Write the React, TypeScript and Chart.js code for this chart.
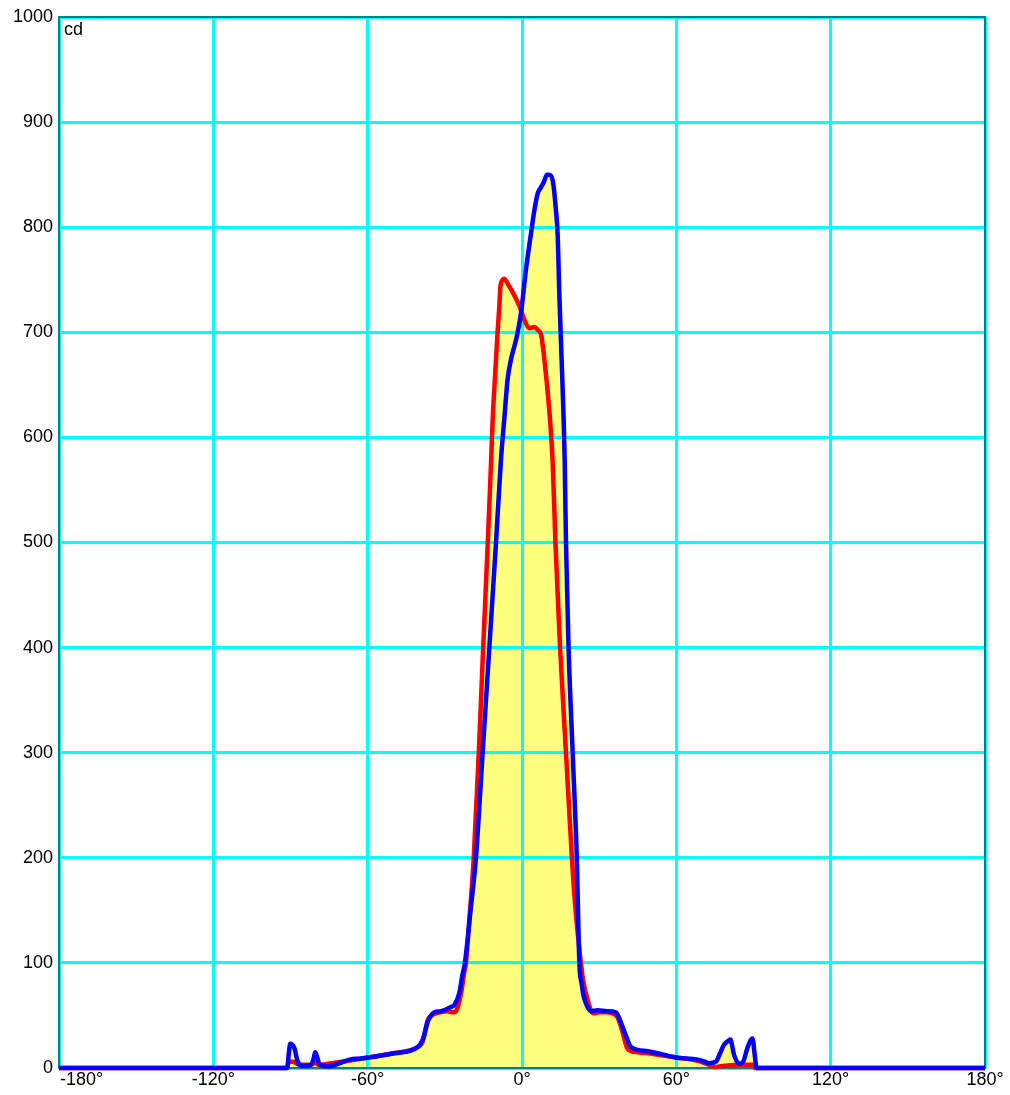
import React, { useEffect, useRef } from "react";
import { Chart, registerables } from "chart.js";

Chart.register(...registerables);

const xTicks = [-180, -120, -60, 0, 60, 120, 180];
const yTicks = [0, 100, 200, 300, 400, 500, 600, 700, 800, 900, 1000];
const unitLabel = "cd";

const redAngles = [-180, -91.5, -90.5, -89, -87.5, -85, -82, -80.5, -79, -75.5, -70, -62, -50, -40.5, -38.6, -36.7, -35, -32, -29, -27, -25.7, -24.5, -23.4, -22.5, -21.8, -20.5, -18.8, -16.8, -15.3, -13.3, -12, -11.4, -10.1, -9.5, -8.8, -8.4, -7.5, -6.9, -5.5, -3.6, -1, 0.9, 2.8, 4.8, 6.2, 7.4, 8.7, 10.6, 11.9, 13, 14.8, 17.1, 19.4, 20.5, 22.9, 24, 25.5, 26.8, 28, 30, 33, 36, 37.2, 39, 41.1, 45, 49, 60, 68, 72.8, 75, 78, 86, 90, 90.5, 180];
const redValues = [0, 0, 6, 6, 4, 3, 3, 5, 3, 4, 6, 9, 14, 20, 25, 45, 50, 53, 54, 53, 54, 62, 75, 90, 100, 140, 198, 300, 388, 500, 578, 617, 674, 700, 725, 743, 750, 751, 746, 738, 725, 712, 704, 705, 702, 698, 674, 626, 578, 500, 400, 300, 200, 160, 100, 80, 65, 55, 52, 53, 53, 51, 48, 35, 18, 15, 14, 10, 7, 3, 1, 2, 3, 3, 0, 0];

const blueAngles = [-180, -91.3, -90.6, -90.1, -88.5, -87.2, -85.3, -82, -81, -80.4, -79.6, -78.8, -75.5, -70.4, -67, -62.6, -49.6, -40.5, -38.6, -36.5, -35.4, -34.1, -31.5, -27.6, -26.3, -24.4, -23.2, -22.2, -20, -17.9, -15.3, -12.7, -10.1, -8.2, -6.9, -5.6, -4.3, -2.3, -1.7, -0.4, 1.5, 3.5, 4.8, 6.1, 7.4, 8.5, 9.7, 10.5, 11.9, 13.2, 13.9, 14.5, 15.4, 16.2, 16.6, 17.1, 18.1, 19.7, 21.3, 22.3, 23.2, 24, 25.5, 26.8, 29.4, 33, 36.5, 38.5, 40.5, 42.4, 48.9, 59.9, 68.3, 71, 72.8, 75.4, 77, 78.5, 80.3, 81, 82.5, 84.4, 86, 87.5, 89, 89.6, 90.5, 91.2, 180];
const blueValues = [0, 0, 15, 23, 19, 6, 2, 3, 9, 15, 10, 4, 1.5, 5, 8, 9, 14, 20, 27, 45, 50, 53, 54, 58, 60, 71, 88, 100, 150, 200, 300, 400, 500, 578, 617, 655, 674, 693, 700, 718, 759, 794, 816, 832, 838, 843, 850, 850, 845, 816, 791, 737, 674, 617, 578, 500, 400, 300, 200, 100, 80, 68, 58, 54, 55, 54, 53, 43, 30, 20, 16, 10, 8, 6, 4.5, 6, 14, 22, 26, 27, 12, 4, 6, 18, 27, 28, 12, 0, 0];

const FONT = '"Liberation Sans", Arial, sans-serif';

export default function App() {
  const ref = useRef<HTMLCanvasElement | null>(null);

  useEffect(() => {
    const canvas = ref.current;
    if (!canvas) return;

    const toPoints = (xs: number[], ys: number[]) => xs.map((x, i) => ({ x, y: ys[i] }));

    const framePlugin = {
      id: "frameAndLabels",
      beforeDatasetsDraw(chart: any) {
        const { ctx, chartArea } = chart;
        ctx.save();
        ctx.strokeStyle = "#008080";
        ctx.lineWidth = 2;
        ctx.strokeRect(chartArea.left, chartArea.top, chartArea.right - chartArea.left, chartArea.bottom - chartArea.top);
        ctx.restore();
      },
      afterDraw(chart: any) {
        const { ctx, chartArea } = chart;
        const xs = chart.scales.x;
        ctx.save();
        ctx.fillStyle = "#000";
        ctx.font = `18px ${FONT}`;
        ctx.textBaseline = "top";
        xTicks.forEach((v, i) => {
          const px = xs.getPixelForValue(v);
          ctx.textAlign = i === 0 ? "left" : "center";
          ctx.fillText(`${v}°`, i === 0 ? px + 1 : px, chartArea.bottom + 3);
        });
        ctx.textAlign = "left";
        ctx.textBaseline = "alphabetic";
        ctx.fillText(unitLabel, chartArea.left + 5, chartArea.top + 18);
        ctx.restore();
      },
    };

    const chart = new Chart(canvas, {
      type: "line",
      data: {
        datasets: [
          {
            label: "C90-C270",
            data: toPoints(blueAngles, blueValues),
            borderColor: "#0000ff",
            borderWidth: 4.5,
            backgroundColor: "#ffff80",
            fill: "origin",
            pointRadius: 0,
            cubicInterpolationMode: "monotone",
            clip: false as any,
          },
          {
            label: "C0-C180",
            data: toPoints(redAngles, redValues),
            borderColor: "#ff0000",
            borderWidth: 4.5,
            backgroundColor: "#ffff80",
            fill: "origin",
            pointRadius: 0,
            cubicInterpolationMode: "monotone",
            clip: false as any,
          },
        ],
      },
      options: {
        responsive: false,
        animation: false,
        layout: { padding: { top: 17, right: 25, left: 0, bottom: 0 } },
        plugins: {
          legend: { display: false },
          tooltip: { enabled: false },
          filler: { drawTime: "beforeDraw" } as any,
        },
        scales: {
          x: {
            type: "linear",
            min: -180,
            max: 180,
            afterBuildTicks(scale: any) {
              scale.ticks = xTicks.map((v) => ({ value: v }));
            },
            afterFit(scale: any) {
              scale.height = 27;
            },
            ticks: { display: false },
            grid: { color: "#00ffff", lineWidth: 3, drawTicks: false },
            border: { display: false },
          },
          y: {
            type: "linear",
            min: 0,
            max: 1000,
            afterBuildTicks(scale: any) {
              scale.ticks = yTicks.map((v) => ({ value: v }));
            },
            afterFit(scale: any) {
              scale.width = 59;
            },
            ticks: {
              color: "#000",
              padding: 6,
              font: { family: FONT, size: 18 },
              callback: (v: any) => String(v),
            },
            grid: { color: "#00ffff", lineWidth: 3, drawTicks: false },
            border: { display: false },
          },
        },
      },
      plugins: [framePlugin],
    });

    return () => chart.destroy();
  }, []);

  return (
    <div style={{ position: "absolute", left: 0, top: 0, width: 1010, height: 1095, background: "#fff" }}>
      <canvas ref={ref} width={1010} height={1095} style={{ width: 1010, height: 1095, display: "block" }} />
    </div>
  );
}
